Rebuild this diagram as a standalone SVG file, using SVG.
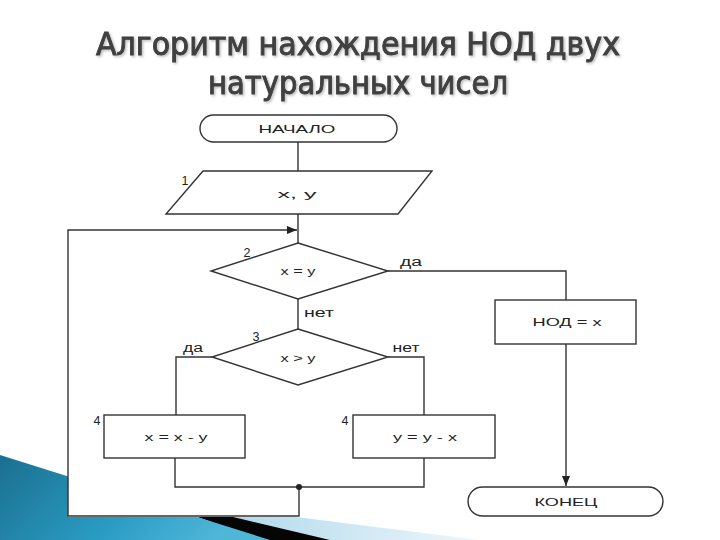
<svg xmlns="http://www.w3.org/2000/svg" width="720" height="540" viewBox="0 0 720 540">
<defs>
<linearGradient id="blueG" x1="0" y1="0" x2="1" y2="0.3">
<stop offset="0" stop-color="#1b6f8f"/>
<stop offset="0.6" stop-color="#2a9cc4"/>
<stop offset="1" stop-color="#4fb6d8"/>
</linearGradient>
<linearGradient id="lightG" x1="0" y1="0" x2="1" y2="0">
<stop offset="0" stop-color="#a9d6ea"/>
<stop offset="1" stop-color="#eef7fb"/>
</linearGradient>
<filter id="sh" x="-5%" y="-20%" width="110%" height="150%">
<feDropShadow dx="1.5" dy="1.5" stdDeviation="1" flood-color="#000" flood-opacity="0.25"/>
</filter>
<marker id="arr" markerWidth="10" markerHeight="8" refX="10" refY="4" orient="auto" markerUnits="userSpaceOnUse">
<path d="M0,0 L10,4 L0,8 Z" fill="#222"/>
</marker>
</defs>
<style>
.title{font-family:"DejaVu Sans Condensed","DejaVu Sans",sans-serif;font-size:32px;fill:#404040;stroke:#404040;stroke-width:0.9;text-anchor:middle;filter:url(#sh)}
.shape{fill:#fff;stroke:#333;stroke-width:1.4}
.line{fill:none;stroke:#333;stroke-width:1.4}
.t{font-family:"Liberation Sans",Arial,sans-serif;font-size:11.5px;fill:#222;text-anchor:middle}
.n{font-family:"Liberation Sans",Arial,sans-serif;font-size:12.5px;fill:#222;text-anchor:middle}
</style>
<rect width="720" height="540" fill="#fff"/>
<g id="decor">
<polygon points="200,505 480,540 280,540" fill="url(#lightG)"/>
<polygon points="120,490 330,540 263,540" fill="#050505"/>
<polygon points="0,455 270,540 0,540" fill="url(#blueG)"/>
<rect x="68" y="105" width="640" height="412" fill="#fff"/>
</g>
<g id="title">
<text class="title" x="358" y="55" textLength="524" lengthAdjust="spacingAndGlyphs">Алгоритм нахождения НОД двух</text>
<text class="title" x="358" y="94" textLength="300" lengthAdjust="spacingAndGlyphs">натуральных чисел</text>
</g>
<g id="connectors">
<line class="line" x1="298" y1="142" x2="298" y2="171"/>
<line class="line" x1="298" y1="214" x2="298" y2="243"/>
<polyline class="line" points="299,487 299,516 68,516 68,230 297,230" marker-end="url(#arr)"/>
<polyline class="line" points="388,271 566,271 566,300"/>
<line class="line" x1="566" y1="344" x2="566" y2="486" marker-end="url(#arr)"/>
<line class="line" x1="298" y1="299" x2="298" y2="329"/>
<polyline class="line" points="212,357 176,357 176,415"/>
<polyline class="line" points="388,357 424,357 424,415"/>
<polyline class="line" points="175,458 175,487 424,487 424,458"/>
<circle cx="299" cy="487" r="3" fill="#222"/>
<text class="n" x="411" y="266" textLength="22" lengthAdjust="spacingAndGlyphs">да</text>
<text class="n" x="319" y="317" textLength="30" lengthAdjust="spacingAndGlyphs">нет</text>
<text class="n" x="193" y="352" textLength="20" lengthAdjust="spacingAndGlyphs">да</text>
<text class="n" x="406" y="352" textLength="27" lengthAdjust="spacingAndGlyphs">нет</text>
</g>
<g id="start">
<rect class="shape" x="200" y="115" width="197" height="27" rx="13.5"/>
<text class="t" x="297" y="133" textLength="77" lengthAdjust="spacingAndGlyphs">НАЧАЛО</text>
</g>
<g id="input">
<polygon class="shape" points="203,171 432,171 398,214 166,214"/>
<text class="n" x="185" y="185">1</text>
<text class="t" x="297" y="198" textLength="39" lengthAdjust="spacingAndGlyphs">x,  y</text>
</g>
<g id="cond1">
<polygon class="shape" points="298,243 388,271 298,299 211,271"/>
<text class="n" x="247" y="257">2</text>
<text class="t" x="298" y="275" textLength="35" lengthAdjust="spacingAndGlyphs">x = y</text>
</g>
<g id="gcd">
<rect class="shape" x="495" y="300" width="141" height="44"/>
<text class="t" x="567" y="326" textLength="69" lengthAdjust="spacingAndGlyphs">НОД = x</text>
</g>
<g id="cond2">
<polygon class="shape" points="298,329 388,357 298,385 212,357"/>
<text class="n" x="256" y="341">3</text>
<text class="t" x="298" y="362" textLength="35" lengthAdjust="spacingAndGlyphs">x &gt; y</text>
</g>
<g id="stepA">
<rect class="shape" x="104" y="415" width="141" height="43"/>
<text class="n" x="97" y="425">4</text>
<text class="t" x="176" y="441" textLength="63" lengthAdjust="spacingAndGlyphs">x = x - y</text>
</g>
<g id="stepB">
<rect class="shape" x="353" y="415" width="142" height="43"/>
<text class="n" x="345" y="425">4</text>
<text class="t" x="425" y="441" textLength="64" lengthAdjust="spacingAndGlyphs">y = y - x</text>
</g>
<g id="end">
<rect class="shape" x="468" y="487" width="195" height="29" rx="14.5"/>
<text class="t" x="566" y="506" textLength="63" lengthAdjust="spacingAndGlyphs">КОНЕЦ</text>
</g>
</svg>
